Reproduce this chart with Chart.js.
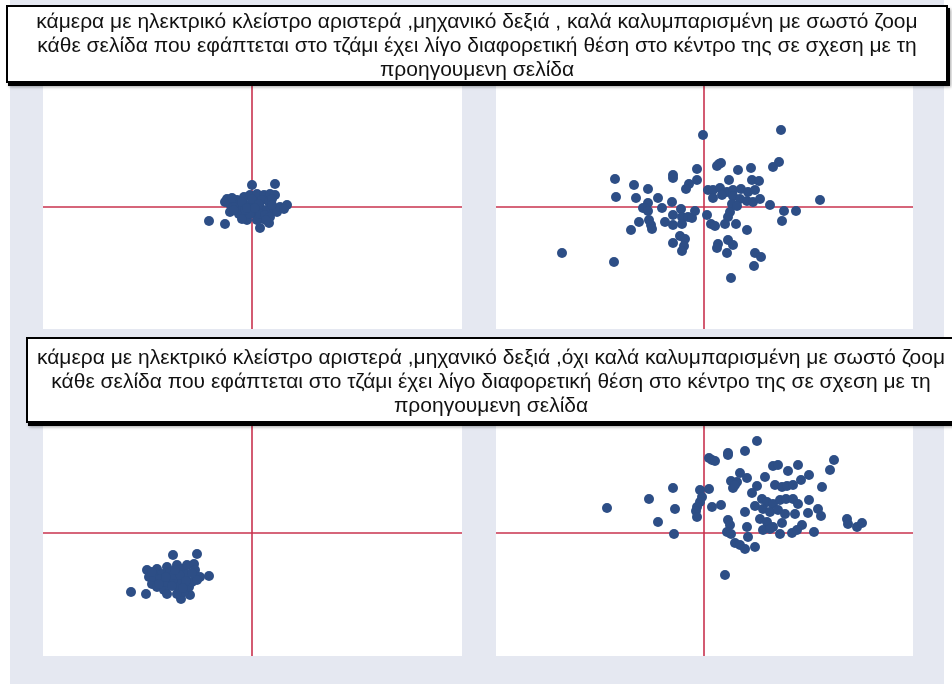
<!DOCTYPE html>
<html>
<head>
<meta charset="utf-8">
<script src="https://cdn.jsdelivr.net/npm/chart.js@4"></script>
<style>
  html, body { margin: 0; padding: 0; background: #fff; }
  body { width: 952px; height: 684px; position: relative; overflow: hidden;
         font-family: "Liberation Sans", Arial, sans-serif; }
  #bg { position: absolute; left: 10px; top: 0; width: 934px; height: 684px; background: #e5e8f1; }
  .plot { position: absolute; background: #fff; }
  .plot canvas { display: block; }
  .note { position: absolute; background: #fff; border: 2px solid #000;
          box-shadow: 2px 3px 0 #000, 3px 4px 3px rgba(0,0,0,0.35);
          text-align: center; font-size: 21px; line-height: 24px; color: #111;
          box-sizing: border-box; white-space: nowrap; }
</style>
</head>
<body>
<div id="bg"></div>
<div class="plot" style="left:43px;top:84px;width:419px;height:245px"><canvas id="c1" width="419" height="245"></canvas></div>
<div class="plot" style="left:496px;top:84px;width:417px;height:245px"><canvas id="c2" width="417" height="245"></canvas></div>
<div class="plot" style="left:43px;top:423px;width:419px;height:233px"><canvas id="c3" width="419" height="233"></canvas></div>
<div class="plot" style="left:496px;top:423px;width:417px;height:233px"><canvas id="c4" width="417" height="233"></canvas></div>
<div class="note" id="t1" style="left:6px;top:5px;width:942px;height:78px;padding-top:2px"></div>
<div class="note" id="t2" style="left:26px;top:337px;width:930px;height:86px;padding-top:6px"></div>
<script>
// κείμενα πλαισίων
const TITLE_TOP = [
  "κάμερα με ηλεκτρικό κλείστρο αριστερά ,μηχανικό δεξιά , καλά καλυμπαρισμένη με σωστό ζοομ",
  "κάθε σελίδα που εφάπτεται στο τζάμι έχει λίγο διαφορετική θέση στο κέντρο της σε σχεση με τη",
  "προηγουμενη σελίδα",
];
const TITLE_BOTTOM = [
  "κάμερα με ηλεκτρικό κλείστρο αριστερά ,μηχανικό δεξιά ,όχι καλά καλυμπαρισμένη με σωστό ζοομ",
  "κάθε σελίδα που εφάπτεται στο τζάμι έχει λίγο διαφορετική θέση στο κέντρο της σε σχεση με τη",
  "προηγουμενη σελίδα",
];

// αποκλίσεις από το κέντρο (x, y) — πάνω αριστερά
const TOP_LEFT = [
  [0,22],[23,23],[-43,-14],[-27,-17],[35,2],[8,-21],[17,-16],
  [-25,8],[-22,3],[-15,7],[-8,10],[-2,12],[5,13],[12,12],[18,13],[23,12],
  [-22,-5],[-15,-3],[-8,-10],[-5,-13],[2,-5],[8,0],[15,-3],[22,-2],[25,-5],
  [12,-12],[5,-13],[-12,2],[-3,2],[3,5],[10,7],[17,5],[-27,5],[-18,0],
  [-13,-7],[-2,-7],[8,-7],[13,-8],[-7,-3],[28,0],[18,-10],[32,-2],
  [-20,9],[-10,5],[0,8],[7,3],[20,8],[-5,-1],[3,-1],[-18,-3],[-10,-12],[14,-13],[20,2],
];
// πάνω δεξιά
const TOP_RIGHT = [
  [-1,72],[77,77],[75,45],[69,40],[15,43],[17,44],[13,41],[34,37],[47,39],[-7,38],
  [-31,32],[-31,29],[-7,27],[25,27],[48,27],[55,26],[-89,28],[-70,22],[-56,18],
  [-15,23],[-18,18],[-88,10],[-68,9],[-46,9],[-32,5],[-56,4],[-59,-1],[-61,-1],[-56,-4],
  [-42,-1],[-23,-2],[-31,-8],[-22,-10],[-16,-10],[-12,-11],[-22,-17],[-31,-18],[-39,-15],
  [-9,-4],[-65,-15],[-73,-23],[-55,-13],[-53,-18],[-52,-22],
  [4,17],[9,17],[16,19],[23,15],[29,17],[37,18],[44,15],[51,17],[9,9],[18,12],[29,11],
  [36,8],[43,6],[49,5],[56,8],[66,2],[28,3],[33,1],
  [116,7],[80,-4],[92,-4],[78,-14],[3,-8],[7,-17],[11,-19],[26,-5],[24,-10],[21,-17],[32,-17],
  [43,-23],[-24,-29],[-19,-32],[-31,-36],[-20,-39],[-22,-44],[14,-37],[13,-41],[24,-33],
  [29,-38],[23,-46],[51,-46],[57,-50],[50,-59],[27,-71],[-142,-46],[-90,-55],
];
// κάτω αριστερά
const BOTTOM_LEFT = [
  [-79,-22],[-55,-21],[-121,-59],[-106,-61],[-43,-43],[-71,-66],[-62,-62],
  [-105,-37],[-103,-44],[-100,-51],[-95,-36],[-90,-41],[-85,-34],[-82,-39],[-75,-32],
  [-70,-36],[-65,-32],[-58,-31],[-57,-37],[-52,-44],[-95,-54],[-88,-57],[-83,-52],
  [-78,-47],[-73,-54],[-68,-59],[-63,-54],[-70,-47],[-88,-49],[-98,-44],[-75,-61],
  [-85,-61],[-60,-49],[-55,-47],[-100,-39],[-78,-42],[-65,-41],
  [-92,-46],[-80,-53],[-72,-42],[-66,-48],[-86,-44],[-93,-51],[-60,-40],[-77,-37],[-69,-55],
];
// κάτω δεξιά
const BOTTOM_RIGHT = [
  [53,92],[41,82],[24,80],[24,78],[5,75],[8,73],[11,72],[130,73],[126,63],[69,67],[74,68],
  [94,68],[84,62],[105,58],[36,60],[43,55],[61,56],[97,53],[27,52],[33,51],[29,45],[31,48],
  [53,47],[48,40],[71,48],[78,46],[83,47],[89,48],[118,46],[-31,45],
  [-4,43],[5,44],[-2,36],[-4,31],[-7,26],[-8,22],[-7,16],[-55,34],[-97,25],[-29,24],
  [-46,11],[-30,-1],[8,26],[17,28],[41,21],
  [58,34],[63,31],[69,29],[76,33],[82,34],[89,34],[94,29],[105,33],
  [51,27],[59,24],[66,21],[74,23],[81,19],[91,19],[104,20],[114,24],[117,17],
  [56,14],[63,11],[69,6],[78,10],[59,3],[66,4],[24,13],[26,8],[23,1],[27,-1],
  [43,6],[44,-4],[76,-1],[88,0],[98,8],[93,3],[110,1],
  [143,14],[144,9],[153,6],[158,10],[31,-10],[36,-12],[41,-16],[51,-14],[21,-42],
];

// όρια αξόνων [xmin, xmax, ymin, ymax]
const RANGE_TOP_LEFT = [-209, 210, -122, 123];
const RANGE_TOP_RIGHT = [-208, 209, -122, 123];
const RANGE_BOTTOM_LEFT = [-209, 210, -123, 110];
const RANGE_BOTTOM_RIGHT = [-208, 209, -123, 110];

const DOT = "#2d4e86", CROSS = "#c8324e";

document.getElementById("t1").innerHTML = TITLE_TOP.join("<br>");
document.getElementById("t2").innerHTML = TITLE_BOTTOM.join("<br>");

const drawPanel = (id, pts, r) => {
  const [x0, x1, y0, y1] = r;
  const line = (data) => ({
    data, showLine: true, borderColor: CROSS, borderWidth: 1.6,
    pointRadius: 0, order: 2,
  });
  new Chart(document.getElementById(id), {
    type: "scatter",
    data: {
      datasets: [
        line([{ x: x0, y: 0 }, { x: x1, y: 0 }]),
        line([{ x: 0, y: y0 }, { x: 0, y: y1 }]),
        { data: pts.map(([x, y]) => ({ x, y })), backgroundColor: DOT,
          borderColor: DOT, borderWidth: 0, pointRadius: 5, order: 1 },
      ],
    },
    options: {
      responsive: false, animation: false,
      layout: { padding: 0, autoPadding: false },
      plugins: { legend: { display: false }, tooltip: { enabled: false } },
      scales: {
        x: { type: "linear", min: x0, max: x1, display: false },
        y: { type: "linear", min: y0, max: y1, display: false },
      },
    },
  });
};

drawPanel("c1", TOP_LEFT, RANGE_TOP_LEFT);
drawPanel("c2", TOP_RIGHT, RANGE_TOP_RIGHT);
drawPanel("c3", BOTTOM_LEFT, RANGE_BOTTOM_LEFT);
drawPanel("c4", BOTTOM_RIGHT, RANGE_BOTTOM_RIGHT);
</script>
</body>
</html>
